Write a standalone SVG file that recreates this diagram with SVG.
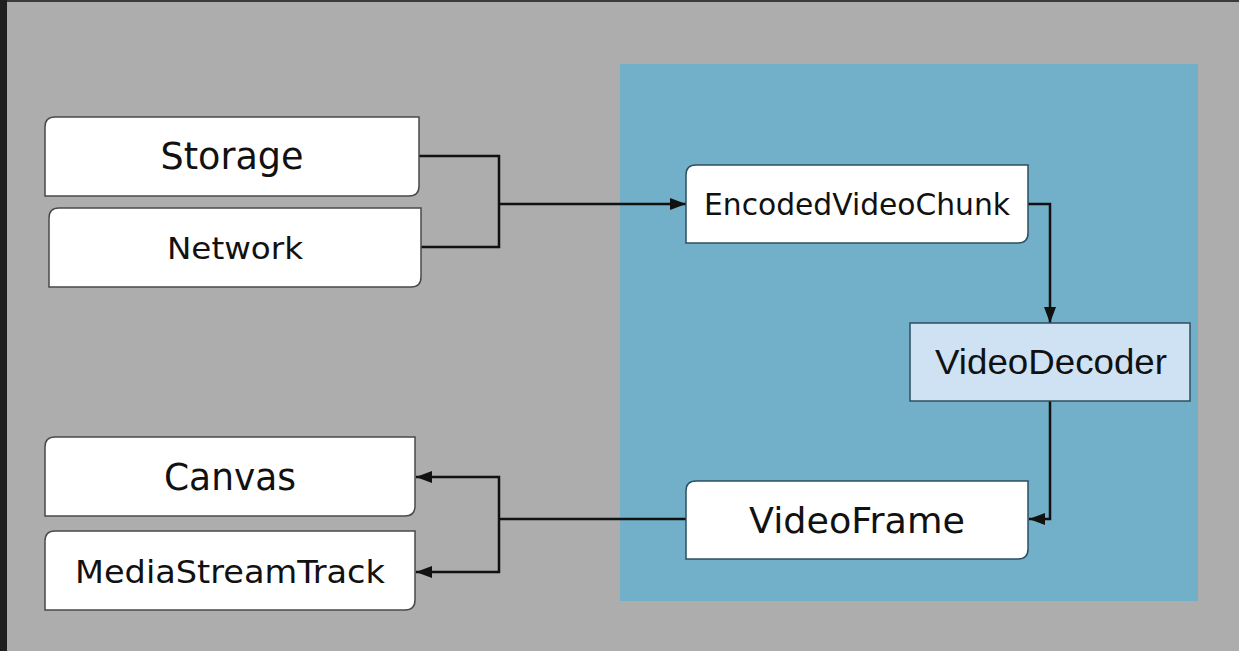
<svg xmlns="http://www.w3.org/2000/svg" width="1239" height="651" viewBox="0 0 1239 651">
  <style>
    .node { fill: #ffffff; stroke: #4a4a4a; stroke-width: 1.5; }
    .inner { fill: #ffffff; stroke: #2c4f60; stroke-width: 1.5; }
    .codec { fill: #cfe2f3; stroke: #2c4f60; stroke-width: 1.5; }
    .label { font-family: "DejaVu Sans", Verdana, sans-serif; fill: #111111; text-anchor: middle; }
    .label-arial { font-family: "Liberation Sans", Arial, sans-serif; fill: #111111; text-anchor: middle; }
    .wire { fill: none; stroke: #111111; stroke-width: 2.5; }
  </style>
  <defs>
    <marker id="arrow" viewBox="0 0 16 12" refX="16" refY="6" markerWidth="16" markerHeight="12" markerUnits="userSpaceOnUse" orient="auto">
      <path d="M0,0 L16,6 L0,12 z" fill="#111111"/>
    </marker>
  </defs>

  <!-- frame and backdrop -->
  <rect x="0" y="0" width="1239" height="651" fill="#adadad"/>
  <rect x="0" y="0" width="1239" height="2" fill="#3a3a3a"/>
  <rect x="0" y="0" width="7" height="651" fill="#1f1f1f"/>

  <!-- codec region -->
  <rect id="codec-area" x="620" y="64" width="578" height="537" fill="#72afc9"/>

  <!-- connectors -->
  <g id="connectors">
    <path class="wire" d="M419,156 H499 V247 H421"/>
    <path class="wire" d="M499,204 H686" marker-end="url(#arrow)"/>
    <path class="wire" d="M1028,204 H1050 V323" marker-end="url(#arrow)"/>
    <path class="wire" d="M1050,401 V519 H1029" marker-end="url(#arrow)"/>
    <path class="wire" d="M686,519 H499"/>
    <path class="wire" d="M499,519 V477 H416" marker-end="url(#arrow)"/>
    <path class="wire" d="M499,519 V572 H416" marker-end="url(#arrow)"/>
  </g>

  <!-- sources -->
  <g id="storage">
    <path class="node" d="M55,117 H419 V186 Q419,196 409,196 H45 V127 Q45,117 55,117 Z"/>
    <text class="label" x="232" y="169" font-size="37" textLength="143" lengthAdjust="spacingAndGlyphs">Storage</text>
  </g>
  <g id="network">
    <path class="node" d="M59,208 H421 V277 Q421,287 411,287 H49 V218 Q49,208 59,208 Z"/>
    <text class="label" x="235" y="259" font-size="31" textLength="136" lengthAdjust="spacingAndGlyphs">Network</text>
  </g>

  <!-- codec pipeline -->
  <g id="encoded-video-chunk">
    <path class="inner" d="M696,165 H1028 V233 Q1028,243 1018,243 H686 V175 Q686,165 696,165 Z"/>
    <text class="label" x="857" y="215" font-size="30" textLength="306" lengthAdjust="spacingAndGlyphs">EncodedVideoChunk</text>
  </g>
  <g id="video-decoder">
    <rect class="codec" x="910" y="323" width="280" height="78"/>
    <text class="label-arial" x="1051" y="374" font-size="35" textLength="232" lengthAdjust="spacingAndGlyphs">VideoDecoder</text>
  </g>
  <g id="video-frame">
    <path class="inner" d="M696,481 H1028 V549 Q1028,559 1018,559 H686 V491 Q686,481 696,481 Z"/>
    <text class="label" x="857" y="533" font-size="36" textLength="216" lengthAdjust="spacingAndGlyphs">VideoFrame</text>
  </g>

  <!-- sinks -->
  <g id="canvas">
    <path class="node" d="M55,437 H415 V506 Q415,516 405,516 H45 V447 Q45,437 55,437 Z"/>
    <text class="label" x="230" y="490" font-size="37" textLength="132" lengthAdjust="spacingAndGlyphs">Canvas</text>
  </g>
  <g id="media-stream-track">
    <path class="node" d="M55,531 H415 V600 Q415,610 405,610 H45 V541 Q45,531 55,531 Z"/>
    <text class="label" x="230" y="583" font-size="32" textLength="310" lengthAdjust="spacingAndGlyphs">MediaStreamTrack</text>
  </g>
</svg>
